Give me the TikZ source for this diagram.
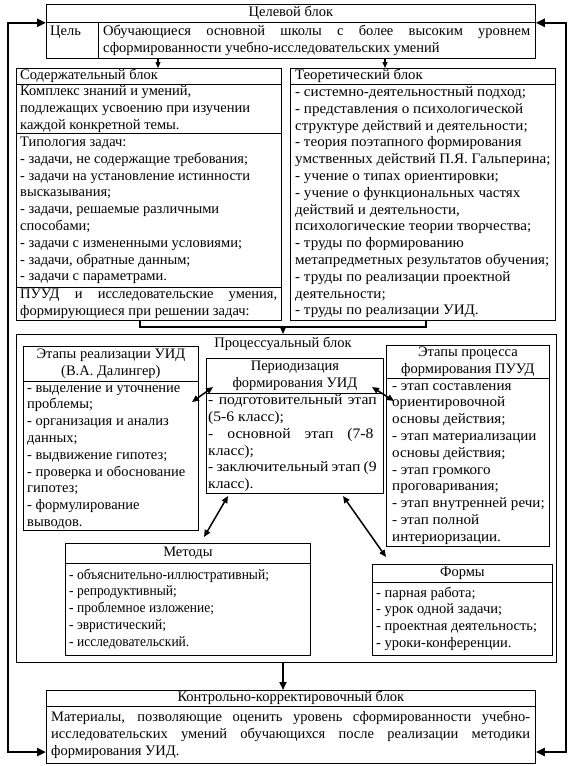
\documentclass[tikz,border=0pt]{standalone}
\usepackage{fontspec}
\usepackage{graphicx}
\setmainfont{Liberation Serif}
\usetikzlibrary{arrows.meta,calc}
\newcommand\fsz{\fontsize{14.5}{16.8}\selectfont}
\newcommand\jl[2]{\makebox[#1pt][s]{#2}}
\newcommand\xs[2]{\scalebox{#1}[1]{\begin{tabular}{@{}l@{}}#2\end{tabular}}}
\newcommand\xc[2]{\scalebox{#1}[1]{\begin{tabular}{@{}c@{}}#2\end{tabular}}}
\begin{document}
\begin{tikzpicture}[x=1pt,y=-1pt,font=\fsz,
 box/.style={draw,line width=0.8pt,inner sep=0pt,anchor=north west},
 txt/.style={inner sep=0pt,anchor=west,xshift=4pt},
 ctr/.style={inner sep=0pt},
 arr/.style={line width=1.1pt,-{Triangle[length=6pt,width=5pt]}},
 arrb/.style={line width=2pt,-{Triangle[length=8pt,width=7pt]}},
 fbk/.style={line width=2.6pt,{Triangle[length=9pt,width=8pt]}-{Triangle[length=9pt,width=8pt]}},
 darr/.style={line width=1.5pt,{Triangle[length=7pt,width=6pt]}-{Triangle[length=7pt,width=6pt]}},
 brk/.style={line width=1.6pt}]
\useasboundingbox (0,0) rectangle (573,766);

% Целевой блок
\node[box,minimum width=489,minimum height=18] (celH) at (46,4) {};
\node[box,minimum width=52,minimum height=36] (celL) at (46,22) {};
\node[box,minimum width=437,minimum height=36] (celT) at (98,22) {};
\node[ctr] (celHt) at (celH.center) {\xc{1}{Целевой блок}};
\node[txt] (celLt) at (celL.west) {\xs{1}{Цель\\ \mbox{}}};
\node[txt,xshift=1pt] (celTt) at (celT.west) {\xs{1}{\jl{427}{Обучающиеся основной школы с более высоким уровнем}\\сформированности учебно-исследовательских умений}};

% Содержательный блок
\node[box,minimum width=265,minimum height=16] (sodH) at (16,68) {};
\node[box,minimum width=265,minimum height=49] (sodK) at (16,84) {};
\node[box,minimum width=265,minimum height=154] (sodT) at (16,133) {};
\node[box,minimum width=265,minimum height=33] (sodP) at (16,287) {};
\node[txt] (sodHt) at (sodH.west) {\xs{1}{Содержательный блок}};
\node[txt] (sodKt) at (sodK.west) {\xs{1}{Комплекс знаний и умений,\\подлежащих усвоению при изучении\\каждой конкретной темы.}};
\node[txt] (sodTt) at (sodT.west) {\xs{1}{Типология задач:\\- задачи, не содержащие требования;\\- задачи на установление истинности\\высказывания;\\- задачи, решаемые различными\\способами;\\- задачи с измененными условиями;\\- задачи, обратные данным;\\- задачи с параметрами.}};
\node[txt] (sodPt) at (sodP.west) {\xs{1}{\jl{257}{ПУУД и исследовательские умения,}\\формирующиеся при решении задач:}};

% Теоретический блок
\node[box,minimum width=265,minimum height=16] (teoH) at (290,68) {};
\node[box,minimum width=265,minimum height=236] (teoB) at (290,84) {};
\node[txt,xshift=1pt] (teoHt) at (teoH.west) {\xs{1.02}{Теоретический блок}};
\node[txt,xshift=1pt] (teoBt) at (teoB.west) {\xs{1.04}{- системно-деятельностный подход;\\- представления о психологической\\структуре действий и деятельности;\\- теория поэтапного формирования\\умственных действий П.Я. Гальперина;\\- учение о типах ориентировки;\\- учение о функциональных частях\\действий и деятельности,\\психологические теории творчества;\\- труды по формированию\\метапредметных результатов обучения;\\- труды по реализации проектной\\деятельности;\\- труды по реализации УИД.}};

% Процессуальный блок
\node[box,minimum width=540,minimum height=328] (proc) at (16,334) {};
\node[ctr] (procT) at (283,344) {\xc{1}{Процессуальный блок}};

\node[box,minimum width=175,minimum height=35] (uidH) at (23,346) {};
\node[box,minimum width=175,minimum height=149] (uidB) at (23,381) {};
\node[ctr] (uidHt) at (uidH.center) {\xc{1}{Этапы реализации УИД\\(В.А. Далингер)}};
\node[txt] (uidBt) at (uidB.west) {\xs{1}{- выделение и уточнение\\проблемы;\\- организация и анализ\\данных;\\- выдвижение гипотез;\\- проверка и обоснование\\гипотез;\\- формулирование\\выводов.}};

\node[box,minimum width=177,minimum height=35] (perH) at (206,358) {};
\node[box,minimum width=177,minimum height=100] (perB) at (206,393) {};
\node[ctr] (perHt) at (perH.center) {\xc{1}{Периодизация\\формирования УИД}};
\node[txt,xshift=-2pt] (perBt) at (perB.west) {\xs{1.08}{\jl{156}{- подготовительный этап}\\(5-6 класс);\\\jl{153}{- основной этап (7-8}\\класс);\\\jl{156}{- заключительный этап (9}\\класс).}};

\node[box,minimum width=163,minimum height=33] (puuH) at (386,345) {};
\node[box,minimum width=163,minimum height=168] (puuB) at (386,378) {};
\node[ctr] (puuHt) at (puuH.center) {\xc{1}{Этапы процесса\\формирования ПУУД}};
\node[txt,xshift=2pt] (puuBt) at (puuB.west) {\xs{1.04}{- этап составления\\ориентировочной\\основы действия;\\- этап материализации\\основы действия;\\- этап громкого\\проговаривания;\\- этап внутренней речи;\\- этап полной\\интериоризации.}};

\node[box,minimum width=245,minimum height=20] (metH) at (65,543) {};
\node[box,minimum width=245,minimum height=92] (metB) at (65,563) {};
\node[ctr] (metHt) at (metH.center) {\xc{1}{Методы}};
\node[txt] (metBt) at (metB.west) {\xs{0.93}{- объяснительно-иллюстративный;\\- репродуктивный;\\- проблемное изложение;\\- эвристический;\\- исследовательский.}};

\node[box,minimum width=180,minimum height=18] (forH) at (372,564) {};
\node[box,minimum width=180,minimum height=73] (forB) at (372,582) {};
\node[ctr] (forHt) at (forH.center) {\xc{1}{Формы}};
\node[txt] (forBt) at (forB.west) {\xs{1}{- парная работа;\\- урок одной задачи;\\- проектная деятельность;\\- уроки-конференции.}};

% Контрольно-корректировочный блок
\node[box,minimum width=489,minimum height=16] (konH) at (46,690) {};
\node[box,minimum width=489,minimum height=57] (konB) at (46,706) {};
\node[ctr] (konHt) at (konH.center) {\xc{1}{Контрольно-корректировочный блок}};
\node[txt,xshift=1pt] (konBt) at (konB.west) {\xs{1}{\jl{479}{Материалы, позволяющие оценить уровень сформированности учебно-}\\\jl{479}{исследовательских умений обучающихся после реализации методики}\\формирования УИД.}};

% connectors
\coordinate (a1) at (158,0);
\coordinate (a2) at (385,0);
\draw[arr] (a1 |- celT.south) -- (a1 |- sodH.north);
\draw[arr] (a2 |- celT.south) -- (a2 |- teoH.north);

\coordinate (b1) at (140,0);
\coordinate (b2) at (426,0);
\coordinate (bm) at (283,327);
\draw[brk] (b1 |- sodP.south) |- (bm) -| (b2 |- teoB.south);
\draw[arr] (bm) -- (bm |- proc.north);

\draw[arrb] (bm |- proc.south) -- (bm |- konH.north);

\coordinate (fl) at (8,0);
\coordinate (fr) at (566,0);
\coordinate (fb) at (0,752);
\draw[fbk] (celH.south west) -| (fl |- fb) -- (fb -| konB.west);
\draw[fbk] (celH.south east) -| (fr |- fb) -- (fb -| konB.east);

\coordinate (d1a) at (192,402);
\coordinate (d1b) at (213,387);
\coordinate (d2a) at (372,387);
\coordinate (d2b) at (394,401);
\coordinate (d3a) at (228,496);
\coordinate (d3b) at (204,537);
\coordinate (d4a) at (343,496);
\coordinate (d4b) at (386,557);
\draw[darr] (d1a) -- (d1b);
\draw[darr] (d2a) -- (d2b);
\draw[darr] (d3a) -- (d3b);
\draw[darr] (d4a) -- (d4b);
\end{tikzpicture}
\end{document}
